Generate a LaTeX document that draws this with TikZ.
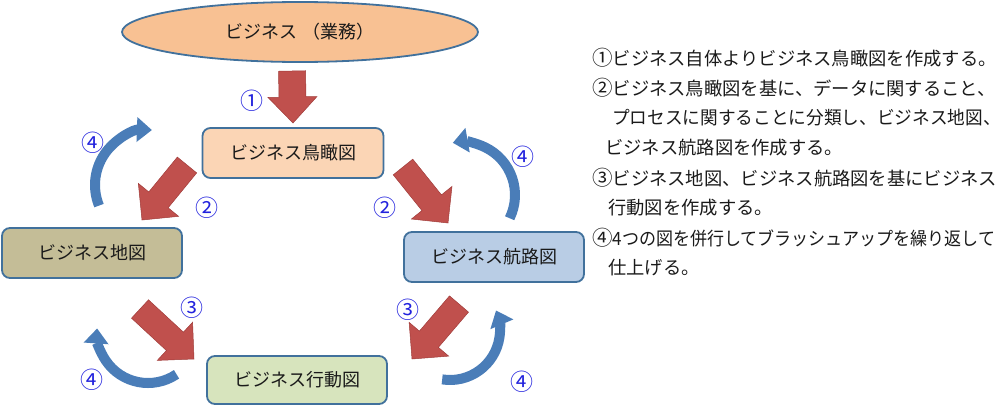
\documentclass[tikz,border=0pt]{standalone}
\usepackage{fontspec}
\setmainfont{Noto Sans CJK JP}
\usetikzlibrary{calc,arrows.meta,shapes.geometric}
\definecolor{boxline}{HTML}{41719C}
\definecolor{ellfill}{HTML}{F8C193}
\definecolor{birdfill}{HTML}{FBD5B5}
\definecolor{mapfill}{HTML}{C4BD97}
\definecolor{routefill}{HTML}{B9CDE5}
\definecolor{actfill}{HTML}{D7E4BD}
\definecolor{redfill}{HTML}{C0504D}
\definecolor{redline}{HTML}{A03C3A}
\definecolor{bluearc}{HTML}{4A7DB8}
\definecolor{labelblue}{HTML}{2222DD}
\definecolor{txt}{HTML}{1A1A1A}
\newcommand{\blockarr}[5]{%
  \path ($(#2)!#5!(#1)$) coordinate (hb);
  \path[redblock] ($(#1)!#3!90:(#2)$) -- ($(hb)!#3!90:(#2)$) -- ($(hb)!#4!90:(#2)$) -- (#2)
    -- ($(hb)!#4!-90:(#2)$) -- ($(hb)!#3!-90:(#2)$) -- ($(#1)!#3!-90:(#2)$) -- cycle;}
\newcommand{\cnum}[1]{\makebox[20.5pt][c]{\fontsize{20.5}{20.5}\selectfont #1}}
\begin{document}
\begin{tikzpicture}[x=1pt,y=-1pt,
  diagbox/.style={draw=boxline, line width=1.8pt, rounded corners=8pt, minimum width=180pt,
    minimum height=50pt, inner sep=0pt, text=txt, font=\fontsize{18}{18}\selectfont},
  numlabel/.style={text=labelblue, font=\fontsize{23}{23}\selectfont, inner sep=0pt},
  desc/.style={anchor=west, inner sep=0pt, text=txt, font=\fontsize{18.3}{18.3}\selectfont},
  redblock/.style={fill=redfill, draw=redline, line width=0.5pt, line join=miter},
  curvearrow/.style={draw=bluearc, line width=10pt, -{Triangle[width=24pt,length=15pt]}},
]
\useasboundingbox (0,0) rectangle (1007,407);

% nodes
\node[ellipse, draw=boxline, line width=1.8pt, fill=ellfill, minimum width=356pt, minimum height=60pt,
  inner sep=0pt, text=txt, font=\fontsize{18}{18}\selectfont] (biz) at (300,32) {ビジネス （業務）};
\node[diagbox, fill=birdfill, minimum width=181pt] (bird) at (293,153) {ビジネス鳥瞰図};
\node[diagbox, fill=mapfill] (map) at (92,253) {ビジネス地図};
\node[diagbox, fill=routefill] (route) at (494,257) {ビジネス航路図};
\node[diagbox, fill=actfill, minimum height=48pt] (act) at (297,380) {ビジネス行動図};

% block arrows
\coordinate (a1t) at (292,71);  \coordinate (a1h) at (293,123);
\coordinate (a2lt) at (187,165); \coordinate (a2lh) at (142,220);
\coordinate (a2rt) at (403,167); \coordinate (a2rh) at (448,223);
\coordinate (a3lt) at (140,309); \coordinate (a3lh) at (194,359);
\coordinate (a3rt) at (459,304); \coordinate (a3rh) at (412,359);
\blockarr{a1t}{a1h}{13.5pt}{24.5pt}{26pt}
\blockarr{a2lt}{a2lh}{12.5pt}{26pt}{26pt}
\blockarr{a2rt}{a2rh}{12.5pt}{26pt}{26pt}
\blockarr{a3lt}{a3lh}{12.5pt}{26pt}{26pt}
\blockarr{a3rt}{a3rh}{12.5pt}{26pt}{26pt}

% curved arrows
\coordinate (c4a) at (150,185);
\coordinate (c4b) at (462,195);
\coordinate (c4c) at (148,332);
\coordinate (c4d) at (450,330);
\draw[curvearrow] ([shift={(202:55pt)}]c4a) arc[start angle=202, end angle=88, radius=55pt];
\draw[curvearrow] ([shift={(-26:53pt)}]c4b) arc[start angle=-26, end angle=100, radius=53pt];
\draw[curvearrow] ([shift={(-56:51pt)}]c4c) arc[start angle=-56, end angle=-184, radius=51pt];
\draw[curvearrow] ([shift={(-99:50pt)}]c4d) arc[start angle=-99, end angle=23, radius=50pt];

% labels
\node[numlabel] (l1) at (252,101) {①};
\node[numlabel] (l4a) at (93,143) {④};
\node[numlabel] (l2a) at (207,208) {②};
\node[numlabel] (l4b) at (523,157) {④};
\node[numlabel] (l2b) at (385,208) {②};
\node[numlabel] (l3a) at (192,308) {③};
\node[numlabel] (l4c) at (92,380) {④};
\node[numlabel] (l3b) at (408,310) {③};
\node[numlabel] (l4d) at (522,382) {④};

% description
\node[desc] (d1) at (592,58) {\cnum{①}ビジネス自体よりビジネス鳥瞰図を作成する。};
\node[desc] (d2) at (592,88) {\cnum{②}ビジネス鳥瞰図を基に、データに関すること、};
\node[desc] (d3) at (612,118) {\scalebox{0.965}[1]{プロセスに関することに分類し、ビジネス地図、}};
\node[desc] (d4) at (605,148) {ビジネス航路図を作成する。};
\node[desc] (d5) at (592,178) {\cnum{③}ビジネス地図、ビジネス航路図を基にビジネス};
\node[desc] (d6) at (608,208) {行動図を作成する。};
\node[desc] (d7) at (592,238) {\cnum{④}\scalebox{0.93}[1]{4つの図を併行してブラッシュアップを繰り返して}};
\node[desc] (d8) at (608,268) {仕上げる。};
\end{tikzpicture}
\end{document}
